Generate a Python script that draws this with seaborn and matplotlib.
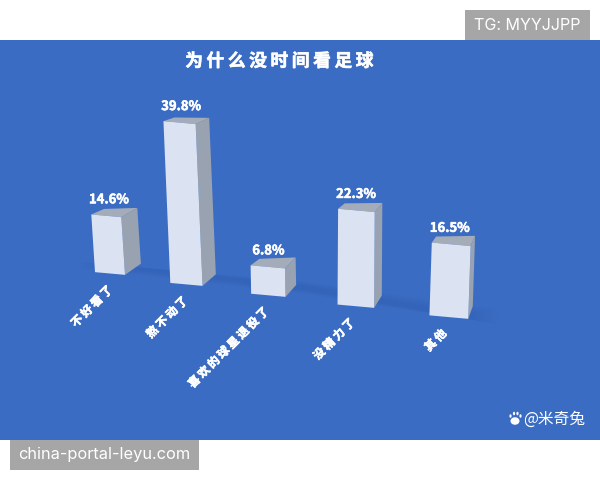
import numpy as np
import pandas as pd
import seaborn as sns
import matplotlib
matplotlib.use("Agg")
import matplotlib.pyplot as plt
import matplotlib.patheffects as pe
from matplotlib.patches import Polygon, Rectangle, Ellipse
from matplotlib.transforms import Affine2D

categories = ["不好看了", "熬不动了", "喜欢的球星退役了", "没精力了", "其他"]
values = [14.6, 39.8, 6.8, 22.3, 16.5]

TITLE = "为什么没时间看足球"
TAG_TOP = "TG: MYYJJPP"
TAG_BOTTOM = "china-portal-leyu.com"
CREDIT = "@米奇兔"

BLUE = "#3b6cc3"
FRONT = "#dbe3f3"
SIDE = "#99a2b1"
TOP = "#a4acb9"
GREY_BOX = "#a6a6a6"

W, H = 600, 480
CJK = ["Noto Sans CJK SC", "DejaVu Sans"]
THIN = "\u2009"

sns.set_theme(style="white")
plt.rcParams["font.family"] = CJK

# reference sized in pixels, so draw extras in y-down pixel space
to_px = Affine2D().scale(1, -1).translate(0, H)
heavy = [pe.withStroke(linewidth=0.4, foreground="white")]


def bar_matrix(i):
    # perspective of the floor: nearer bars (higher i) are bigger and lower
    scale = 1 + 0.034 * i
    base_x = 335 + (-225 + 81.3 * i) * scale
    base_y = 273.5 + 10.9 * i
    width = 30 + 2.2 * i
    per_unit = 3.95 + 0.115 * i
    a = width / 0.8
    b = a * 0.09
    c = (base_x - 335) / 3500 * per_unit
    d = -per_unit
    e = base_x - a * i
    f = base_y - b * i
    return Affine2D.from_values(a, b, c, d, e, f), base_x, base_y


def depth(p, amount=0.033):
    # sides run towards a vanishing point up and to the right
    return np.array(p) + (np.array([606, -64]) - np.array(p)) * amount


fig = plt.figure(figsize=(W / 100, H / 100), dpi=100, facecolor="white")
ax = fig.add_axes([0, 40 / H, 1, 400 / H], facecolor=BLUE)

# soft shadow band on the floor behind the bars
for k in range(8):
    xs = np.array([79 + k * 4, 306, 498 - k * 4, 498 - k * 4, 306, 79 + k * 4])
    ys = np.array([262 + k * 0.3, 282 + k * 0.6, 309 + k * 0.8, 324 - k * 0.8, 294 - k * 0.6, 268 - k * 0.3])
    ax.add_patch(Polygon(np.column_stack([xs, ys]), closed=True, transform=to_px,
                         facecolor="#2c5aa8", edgecolor="none", alpha=0.04, zorder=0.5))

df = pd.DataFrame({"category": categories, "value": values})
sns.barplot(data=df, x="category", y="value", color=FRONT, saturation=1, width=0.8,
            errorbar=None, linewidth=0, edgecolor="none", ax=ax, zorder=3)

for i, rect in enumerate(ax.containers[0]):
    m, base_x, base_y = bar_matrix(i)
    rect.set_transform(m + to_px)
    rect.set_clip_on(False)

    x0, x1 = rect.get_x(), rect.get_x() + rect.get_width()
    v = rect.get_height()
    bl, br, tr, tl = m.transform([(x0, 0), (x1, 0), (x1, v), (x0, v)])

    ax.add_patch(Polygon([br, tr, depth(tr), depth(br)], closed=True, transform=to_px,
                         facecolor=SIDE, edgecolor="none", zorder=2))
    back_left = tl + (depth(tl) - tl) * np.array([0.75, 0.6])
    ax.add_patch(Polygon([tl, tr, depth(tr), back_left], closed=True, transform=to_px,
                         facecolor=TOP, edgecolor="none", zorder=2))

    top_mid = (tl + tr) / 2
    ax.text(top_mid[0] + 2.5 - i, top_mid[1] - 16.5, f"{values[i]}%", transform=to_px, color="white",
            fontsize=9.4, fontweight="bold", ha="center", va="center", zorder=5, path_effects=heavy)
    ax.text(base_x + 0.5 - i * 1.2, base_y + 14.5, THIN.join(categories[i]), transform=to_px, color="white",
            fontsize=8.3, fontweight="bold", rotation=45, rotation_mode="anchor",
            ha="right", va="center", zorder=5, path_effects=heavy)

ax.set(xlabel=None, ylabel=None, xticks=[], yticks=[])
sns.despine(ax=ax, left=True, bottom=True)

ax.text(279, 61.5, THIN.join(TITLE), transform=to_px, color="white", fontsize=12.8,
        fontweight="bold", ha="center", va="center", zorder=5, path_effects=heavy)

# grey watermark tags sit on the white margins
fig.add_artist(Rectangle((465, 10), 125, 30, transform=to_px, facecolor=GREY_BOX, edgecolor="none"))
fig.text(527, 26, TAG_TOP, transform=to_px, color="white", fontsize=11.6, ha="center", va="center",
         family=["Inter", "DejaVu Sans"])
fig.add_artist(Rectangle((10, 440), 189, 30, transform=to_px, facecolor=GREY_BOX, edgecolor="none"))
fig.text(104, 454, TAG_BOTTOM, transform=to_px, color="white", fontsize=11.8, ha="center", va="center",
         family=["Inter", "DejaVu Sans"])

# small paw next to the credit
for cx, cy, rx, ry in [(515, 421, 5, 4), (510.5, 416, 1.6, 2), (514, 413.5, 1.6, 2),
                       (517.5, 413.5, 1.6, 2), (520.5, 416, 1.6, 2)]:
    ax.add_patch(Ellipse((cx, cy), rx * 2 - 1, ry * 2 - 0.5, transform=to_px, facecolor="white",
                         edgecolor="none", zorder=5))
ax.text(523, 419, CREDIT, transform=to_px, color="white", fontsize=11.3, ha="left", va="center", zorder=5)

fig.savefig("out.png", dpi=100, facecolor="white")
